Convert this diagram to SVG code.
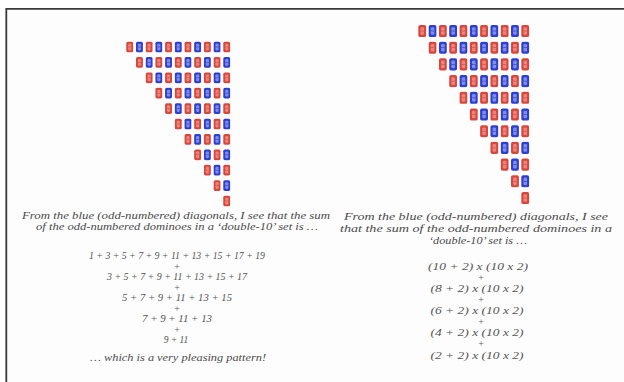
<svg xmlns="http://www.w3.org/2000/svg" xmlns:xlink="http://www.w3.org/1999/xlink" width="624" height="382" viewBox="0 0 624 382">
<style>
.t{font-family:"Liberation Serif","DejaVu Serif",serif;font-style:italic;font-size:9.5px;fill:#4a4a4a;text-anchor:middle}
.f{font-family:"Liberation Serif","DejaVu Serif",serif;font-style:italic;font-size:9.5px;fill:#555;text-anchor:middle}
</style>
<defs>
<symbol id="R" viewBox="0 0 8 12"><rect x="0.3" y="0.3" width="7.4" height="11.4" rx="1.8" fill="#d9473c"/><rect x="2.3" y="2.4" width="3.4" height="7.2" rx="1.2" fill="#f2b1aa" opacity="0.6"/><rect x="2.3" y="5.7" width="3.4" height="0.6" fill="#d9473c"/></symbol>
<symbol id="B" viewBox="0 0 8 12"><rect x="0.3" y="0.3" width="7.4" height="11.4" rx="1.8" fill="#2d3fd0"/><rect x="2.3" y="2.4" width="3.4" height="7.2" rx="1.2" fill="#b9c2f2" opacity="0.6"/><rect x="2.3" y="5.7" width="3.4" height="0.6" fill="#2d3fd0"/></symbol>
</defs>
<rect x="0" y="0" width="624" height="382" fill="#ffffff"/>
<rect x="7" y="9" width="617" height="373" fill="#fdfdfd"/>
<path d="M6.3 382 V8.8 H624" fill="none" stroke="#3a3a3a" stroke-width="1.8"/>

<g id="left-triangle">
<g transform="translate(0,41)"><use href="#R" x="126" width="7.5" height="12"/><use href="#B" x="135.7" width="7.5" height="12"/><use href="#R" x="145.4" width="7.5" height="12"/><use href="#B" x="155.1" width="7.5" height="12"/><use href="#R" x="164.8" width="7.5" height="12"/><use href="#B" x="174.5" width="7.5" height="12"/><use href="#R" x="184.2" width="7.5" height="12"/><use href="#B" x="193.9" width="7.5" height="12"/><use href="#R" x="203.6" width="7.5" height="12"/><use href="#B" x="213.3" width="7.5" height="12"/><use href="#R" x="223" width="7.5" height="12"/></g>
<g transform="translate(0,56.4)"><use href="#R" x="135.7" width="7.5" height="12"/><use href="#B" x="145.4" width="7.5" height="12"/><use href="#R" x="155.1" width="7.5" height="12"/><use href="#B" x="164.8" width="7.5" height="12"/><use href="#R" x="174.5" width="7.5" height="12"/><use href="#B" x="184.2" width="7.5" height="12"/><use href="#R" x="193.9" width="7.5" height="12"/><use href="#B" x="203.6" width="7.5" height="12"/><use href="#R" x="213.3" width="7.5" height="12"/><use href="#B" x="223" width="7.5" height="12"/></g>
<g transform="translate(0,71.8)"><use href="#R" x="145.4" width="7.5" height="12"/><use href="#B" x="155.1" width="7.5" height="12"/><use href="#R" x="164.8" width="7.5" height="12"/><use href="#B" x="174.5" width="7.5" height="12"/><use href="#R" x="184.2" width="7.5" height="12"/><use href="#B" x="193.9" width="7.5" height="12"/><use href="#R" x="203.6" width="7.5" height="12"/><use href="#B" x="213.3" width="7.5" height="12"/><use href="#R" x="223" width="7.5" height="12"/></g>
<g transform="translate(0,87.2)"><use href="#R" x="155.1" width="7.5" height="12"/><use href="#B" x="164.8" width="7.5" height="12"/><use href="#R" x="174.5" width="7.5" height="12"/><use href="#B" x="184.2" width="7.5" height="12"/><use href="#R" x="193.9" width="7.5" height="12"/><use href="#B" x="203.6" width="7.5" height="12"/><use href="#R" x="213.3" width="7.5" height="12"/><use href="#B" x="223" width="7.5" height="12"/></g>
<g transform="translate(0,102.6)"><use href="#R" x="164.8" width="7.5" height="12"/><use href="#B" x="174.5" width="7.5" height="12"/><use href="#R" x="184.2" width="7.5" height="12"/><use href="#B" x="193.9" width="7.5" height="12"/><use href="#R" x="203.6" width="7.5" height="12"/><use href="#B" x="213.3" width="7.5" height="12"/><use href="#R" x="223" width="7.5" height="12"/></g>
<g transform="translate(0,118)"><use href="#R" x="174.5" width="7.5" height="12"/><use href="#B" x="184.2" width="7.5" height="12"/><use href="#R" x="193.9" width="7.5" height="12"/><use href="#B" x="203.6" width="7.5" height="12"/><use href="#R" x="213.3" width="7.5" height="12"/><use href="#B" x="223" width="7.5" height="12"/></g>
<g transform="translate(0,133.4)"><use href="#R" x="184.2" width="7.5" height="12"/><use href="#B" x="193.9" width="7.5" height="12"/><use href="#R" x="203.6" width="7.5" height="12"/><use href="#B" x="213.3" width="7.5" height="12"/><use href="#R" x="223" width="7.5" height="12"/></g>
<g transform="translate(0,148.8)"><use href="#R" x="193.9" width="7.5" height="12"/><use href="#B" x="203.6" width="7.5" height="12"/><use href="#R" x="213.3" width="7.5" height="12"/><use href="#B" x="223" width="7.5" height="12"/></g>
<g transform="translate(0,164.2)"><use href="#R" x="203.6" width="7.5" height="12"/><use href="#B" x="213.3" width="7.5" height="12"/><use href="#R" x="223" width="7.5" height="12"/></g>
<g transform="translate(0,179.6)"><use href="#R" x="213.3" width="7.5" height="12"/><use href="#B" x="223" width="7.5" height="12"/></g>
<g transform="translate(0,195)"><use href="#R" x="223" width="7.5" height="12"/></g>
</g>

<g id="right-triangle">
<g transform="translate(0,24.5)"><use href="#R" x="418" width="8.5" height="13"/><use href="#B" x="428.3" width="8.5" height="13"/><use href="#R" x="438.6" width="8.5" height="13"/><use href="#B" x="448.9" width="8.5" height="13"/><use href="#R" x="459.2" width="8.5" height="13"/><use href="#B" x="469.5" width="8.5" height="13"/><use href="#R" x="479.8" width="8.5" height="13"/><use href="#B" x="490.1" width="8.5" height="13"/><use href="#R" x="500.4" width="8.5" height="13"/><use href="#B" x="510.7" width="8.5" height="13"/><use href="#R" x="521" width="8.5" height="13"/></g>
<g transform="translate(0,41.2)"><use href="#R" x="428.3" width="8.5" height="13"/><use href="#B" x="438.6" width="8.5" height="13"/><use href="#R" x="448.9" width="8.5" height="13"/><use href="#B" x="459.2" width="8.5" height="13"/><use href="#R" x="469.5" width="8.5" height="13"/><use href="#B" x="479.8" width="8.5" height="13"/><use href="#R" x="490.1" width="8.5" height="13"/><use href="#B" x="500.4" width="8.5" height="13"/><use href="#R" x="510.7" width="8.5" height="13"/><use href="#B" x="521" width="8.5" height="13"/></g>
<g transform="translate(0,57.9)"><use href="#R" x="438.6" width="8.5" height="13"/><use href="#B" x="448.9" width="8.5" height="13"/><use href="#R" x="459.2" width="8.5" height="13"/><use href="#B" x="469.5" width="8.5" height="13"/><use href="#R" x="479.8" width="8.5" height="13"/><use href="#B" x="490.1" width="8.5" height="13"/><use href="#R" x="500.4" width="8.5" height="13"/><use href="#B" x="510.7" width="8.5" height="13"/><use href="#R" x="521" width="8.5" height="13"/></g>
<g transform="translate(0,74.6)"><use href="#R" x="448.9" width="8.5" height="13"/><use href="#B" x="459.2" width="8.5" height="13"/><use href="#R" x="469.5" width="8.5" height="13"/><use href="#B" x="479.8" width="8.5" height="13"/><use href="#R" x="490.1" width="8.5" height="13"/><use href="#B" x="500.4" width="8.5" height="13"/><use href="#R" x="510.7" width="8.5" height="13"/><use href="#B" x="521" width="8.5" height="13"/></g>
<g transform="translate(0,91.3)"><use href="#R" x="459.2" width="8.5" height="13"/><use href="#B" x="469.5" width="8.5" height="13"/><use href="#R" x="479.8" width="8.5" height="13"/><use href="#B" x="490.1" width="8.5" height="13"/><use href="#R" x="500.4" width="8.5" height="13"/><use href="#B" x="510.7" width="8.5" height="13"/><use href="#R" x="521" width="8.5" height="13"/></g>
<g transform="translate(0,108)"><use href="#R" x="469.5" width="8.5" height="13"/><use href="#B" x="479.8" width="8.5" height="13"/><use href="#R" x="490.1" width="8.5" height="13"/><use href="#B" x="500.4" width="8.5" height="13"/><use href="#R" x="510.7" width="8.5" height="13"/><use href="#B" x="521" width="8.5" height="13"/></g>
<g transform="translate(0,124.7)"><use href="#R" x="479.8" width="8.5" height="13"/><use href="#B" x="490.1" width="8.5" height="13"/><use href="#R" x="500.4" width="8.5" height="13"/><use href="#B" x="510.7" width="8.5" height="13"/><use href="#R" x="521" width="8.5" height="13"/></g>
<g transform="translate(0,141.4)"><use href="#R" x="490.1" width="8.5" height="13"/><use href="#B" x="500.4" width="8.5" height="13"/><use href="#R" x="510.7" width="8.5" height="13"/><use href="#B" x="521" width="8.5" height="13"/></g>
<g transform="translate(0,158.1)"><use href="#R" x="500.4" width="8.5" height="13"/><use href="#B" x="510.7" width="8.5" height="13"/><use href="#R" x="521" width="8.5" height="13"/></g>
<g transform="translate(0,174.8)"><use href="#R" x="510.7" width="8.5" height="13"/><use href="#B" x="521" width="8.5" height="13"/></g>
<g transform="translate(0,191.5)"><use href="#R" x="521" width="8.5" height="13"/></g>
</g>

<g id="left-text">
<text class="t" x="176" y="219" textLength="308" lengthAdjust="spacingAndGlyphs">From the blue (odd-numbered) diagonals, I see that the sum</text>
<text class="t" x="177" y="230" textLength="282" lengthAdjust="spacingAndGlyphs">of the odd-numbered dominoes in a ‘double-10’ set is …</text>
<text class="f" x="177" y="259" textLength="176" lengthAdjust="spacingAndGlyphs">1 + 3 + 5 + 7 + 9 + 11 + 13 + 15 + 17 + 19</text>
<text class="f" x="177" y="269.5">+</text>
<text class="f" x="177" y="280" textLength="140" lengthAdjust="spacingAndGlyphs">3 + 5 + 7 + 9 + 11 + 13 + 15 + 17</text>
<text class="f" x="177" y="290.5">+</text>
<text class="f" x="177" y="301" textLength="110" lengthAdjust="spacingAndGlyphs">5 + 7 + 9 + 11 + 13 + 15</text>
<text class="f" x="177" y="311.5">+</text>
<text class="f" x="177" y="322" textLength="70" lengthAdjust="spacingAndGlyphs">7 + 9 + 11 + 13</text>
<text class="f" x="177" y="332.5">+</text>
<text class="f" x="176" y="343">9 + 11</text>
<text class="t" x="178" y="361" textLength="176" lengthAdjust="spacingAndGlyphs">… which is a very pleasing pattern!</text>
</g>

<g id="right-text">
<text class="t" x="476" y="220" textLength="264" lengthAdjust="spacingAndGlyphs">From the blue (odd-numbered) diagonals, I see</text>
<text class="t" x="476" y="232" textLength="272" lengthAdjust="spacingAndGlyphs">that the sum of the odd-numbered dominoes in a</text>
<text class="t" x="478" y="244" textLength="98" lengthAdjust="spacingAndGlyphs">‘double-10’ set is …</text>
<text class="f" x="478" y="270" textLength="100" lengthAdjust="spacingAndGlyphs">(10 + 2) x (10 x 2)</text>
<text class="f" x="481" y="281">+</text>
<text class="f" x="477" y="292" textLength="93" lengthAdjust="spacingAndGlyphs">(8 + 2) x (10 x 2)</text>
<text class="f" x="481" y="303">+</text>
<text class="f" x="477" y="314" textLength="93" lengthAdjust="spacingAndGlyphs">(6 + 2) x (10 x 2)</text>
<text class="f" x="481" y="325">+</text>
<text class="f" x="477" y="336" textLength="93" lengthAdjust="spacingAndGlyphs">(4 + 2) x (10 x 2)</text>
<text class="f" x="481" y="347">+</text>
<text class="f" x="477" y="359" textLength="93" lengthAdjust="spacingAndGlyphs">(2 + 2) x (10 x 2)</text>
</g>
</svg>
